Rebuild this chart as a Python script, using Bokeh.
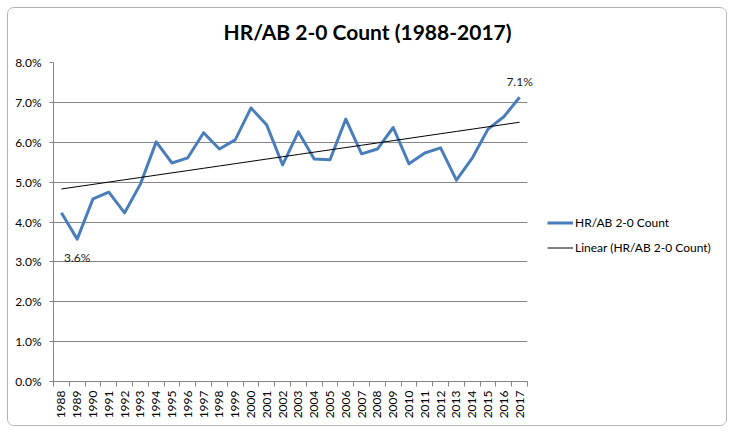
import numpy as np
from bokeh.plotting import figure
from bokeh.models import (Range1d, FixedTicker, NumeralTickFormatter, BasicTickFormatter,
                          Legend, LegendItem, ColumnDataSource, Title)
from bokeh.core.properties import value
from bokeh.embed import file_html
from bokeh.resources import INLINE

# ---- data ----
title_text = "HR/AB 2-0 Count (1988-2017)"
series_name = "HR/AB 2-0 Count"
trend_name = "Linear (HR/AB 2-0 Count)"
years = [1988, 1989, 1990, 1991, 1992, 1993, 1994, 1995, 1996, 1997,
         1998, 1999, 2000, 2001, 2002, 2003, 2004, 2005, 2006, 2007,
         2008, 2009, 2010, 2011, 2012, 2013, 2014, 2015, 2016, 2017]
hr_ab = [0.0423, 0.0357, 0.0458, 0.0475, 0.0423, 0.0495, 0.0601, 0.0548, 0.0561, 0.0624,
         0.0583, 0.0606, 0.0686, 0.0643, 0.0543, 0.0626, 0.0558, 0.0556, 0.0658, 0.0571,
         0.0583, 0.0637, 0.0546, 0.0573, 0.0586, 0.0505, 0.0560, 0.0633, 0.0664, 0.0713]
y_ticks = [0.0, 0.01, 0.02, 0.03, 0.04, 0.05, 0.06, 0.07, 0.08]
labelled_years = [1989, 2017]

FONT = "Lato"
GRID = "#868686"
BLUE = "#4A7EBB"

# linear trendline (least squares), as Excel computes it
coef = np.polyfit(years, hr_ab, 1)
trend = [float(coef[0] * yr + coef[1]) for yr in years]

src = ColumnDataSource(dict(x=years, y=hr_ab))
trend_src = ColumnDataSource(dict(x=years, y=trend))

p = figure(frame_width=474, frame_height=319, output_backend="svg", toolbar_location=None,
           title=None,
           x_range=Range1d(years[0] - 0.5, years[-1] + 0.5),
           y_range=Range1d(y_ticks[0], y_ticks[-1]),
           min_border_left=45, min_border_right=199, min_border_top=54, min_border_bottom=44)
p.outline_line_color = None
p.background_fill_color = "white"
p.border_fill_color = "white"
p.styles = {"margin": "7px 0 0 7px", "border": "1px solid #b4b4b4", "border-radius": "7px",
            "width": "718px", "height": "417px", "overflow": "hidden",
            "box-sizing": "content-box"}

# title: a thin spacer next to the plot area, then the real title above it
p.add_layout(Title(text=" ", text_font_size="1px", standoff=16), "above")
p.add_layout(Title(text=title_text, align="left", offset=170, standoff=0,
                   text_font=FONT, text_font_style="bold", text_font_size="21px",
                   text_color="black"), "above")

# y axis
p.yaxis.ticker = FixedTicker(ticks=y_ticks)
p.yaxis.formatter = NumeralTickFormatter(format="0.0%")
p.yaxis.axis_line_color = GRID
p.yaxis.major_tick_line_color = GRID
p.yaxis.major_tick_out = 4
p.yaxis.major_tick_in = 0
p.yaxis.minor_tick_line_color = None
p.yaxis.major_label_standoff = 8
p.yaxis.major_label_text_font = FONT
p.yaxis.major_label_text_font_size = "12px"
p.yaxis.major_label_text_color = "black"

# x axis: labels at category centres, ticks at boundaries
bounds = [yr - 0.5 for yr in years] + [years[-1] + 0.5]
p.xaxis.ticker = FixedTicker(ticks=years, minor_ticks=bounds)
p.xaxis.formatter = BasicTickFormatter(use_scientific=False)
p.xaxis.major_label_orientation = np.pi / 2
p.xaxis.axis_line_color = GRID
p.xaxis.major_tick_line_color = None
p.xaxis.major_tick_out = 5
p.xaxis.minor_tick_line_color = GRID
p.xaxis.minor_tick_out = 5
p.xaxis.minor_tick_in = 0
p.xaxis.major_label_standoff = 4
p.xaxis.major_label_text_font = FONT
p.xaxis.major_label_text_font_size = "12px"
p.xaxis.major_label_text_color = "black"

p.xgrid.grid_line_color = None
p.ygrid.ticker = FixedTicker(ticks=y_ticks)
p.ygrid.grid_line_color = GRID
p.ygrid.grid_line_width = 1

r_line = p.line("x", "y", source=src, line_color=BLUE, line_width=3, line_join="round")
r_trend = p.line("x", "y", source=trend_src, line_color="black", line_width=1)

# data labels
for yr, off in zip(labelled_years, [18, -16]):
    i = years.index(yr)
    r = p.text(x=[yr], y=[hr_ab[i]], text=[f"{hr_ab[i] * 100:.1f}%"],
               text_font=value(FONT), text_font_size="12px", text_color="#1a1a1a",
               text_align="center", text_baseline="middle", y_offset=off)
    r.level = "overlay"

legend = Legend(items=[LegendItem(label=series_name, renderers=[r_line]),
                       LegendItem(label=trend_name, renderers=[r_trend])],
                location="top_left", orientation="vertical",
                title=" ", title_text_font_size="1px", title_standoff=132,
                glyph_width=26, glyph_height=13, label_height=13, label_standoff=2,
                spacing=10, padding=0, margin=20,
                border_line_color=None, background_fill_alpha=0,
                label_text_font=FONT, label_text_font_size="12px", label_text_color="black")
p.add_layout(legend, "right")

open("out.html", "w").write(file_html(p, INLINE))
